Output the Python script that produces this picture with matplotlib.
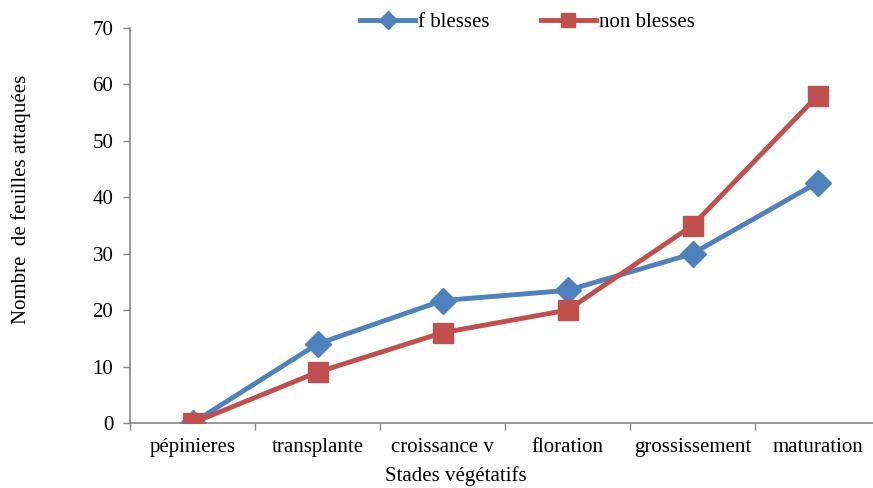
import matplotlib
matplotlib.use("Agg")
import matplotlib.pyplot as plt
import numpy as np

plt.rcParams['font.family'] = ['Liberation Serif', 'DejaVu Serif']

# stades et nombre de feuilles attaquées
stades = ['pépinieres', 'transplante', 'croissance v', 'floration', 'grossissement', 'maturation']
f_blesses = [0, 14.0, 21.7, 23.5, 30.0, 42.6]
non_blesses = [0, 9.0, 16.0, 20.0, 35.0, 58.0]

bleu = '#4F81BD'
rouge = '#C0504D'
gris = '#868686'

fig = plt.figure(figsize=(8.73, 4.88), dpi=100)
ax = fig.add_axes([130/873, 65/488, 750/873, 395/488])

x = np.arange(len(stades)) + 0.5
ax.plot(x, f_blesses, color=bleu, lw=3.5, marker='D', ms=13.5, label='f blesses', zorder=3)
ax.plot(x, non_blesses, color=rouge, lw=3.5, marker='s', ms=14.5, label='non blesses', zorder=3)

ax.set_xlim(0, len(stades))
ax.set_ylim(0, 70)
ax.set_yticks(np.arange(0, 71, 10))
ax.set_xticks(np.arange(0, len(stades) + 1))
ax.set_xticklabels([])
ax.set_xticks(x, minor=True)
ax.set_xticklabels(stades, minor=True, fontsize=15)
ax.tick_params(axis='x', which='major', length=5, color=gris, width=1)
ax.tick_params(axis='x', which='minor', length=0, pad=11)
ax.tick_params(axis='y', length=5, color=gris, width=1, labelsize=15, pad=7)

for s in ['top', 'right']:
    ax.spines[s].set_visible(False)
for s in ['left', 'bottom']:
    ax.spines[s].set_color(gris)
    ax.spines[s].set_linewidth(1.2)
ax.spines['bottom'].set_clip_on(False)

ax.set_ylabel('Nombre  de feuilles attaquées', fontsize=15, labelpad=44, y=0.565)
ax.set_xlabel('Stades végétatifs', fontsize=15, labelpad=6, x=0.435)

leg = ax.legend(loc='center', bbox_to_anchor=(0.53, 1.015), ncol=2, frameon=False,
                fontsize=15, handlelength=2.6, markerscale=0.65, columnspacing=2.5,
                handletextpad=0.15, borderaxespad=0)

fig.savefig('out.png', dpi=100)
